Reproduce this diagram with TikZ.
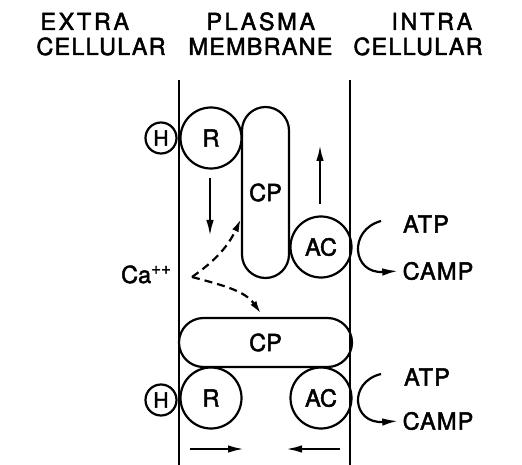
\documentclass[tikz,border=0pt]{standalone}
\usepackage{fontspec}
\usepackage{tikz}
\usetikzlibrary{arrows.meta,positioning,calc}
\newfontfamily\lettering[FakeBold=2]{TeX Gyre Heros}
\newfontfamily\spacedlettering[LetterSpace=11,FakeBold=2]{TeX Gyre Heros}
\newfontfamily\looselettering[LetterSpace=5,FakeBold=2]{TeX Gyre Heros}

\begin{document}
\begin{tikzpicture}[x=1pt,y=-1pt,
          line width=2.2pt,
          every node/.style={font=\lettering\fontsize{23.5}{28}\selectfont},
          head/.style={anchor=base west,font=\spacedlettering\fontsize{23.5}{28}\selectfont},
          subhead/.style={anchor=base west,font=\looselettering\fontsize{23.5}{28}\selectfont},
          mol/.style={font=\looselettering\fontsize{23.5}{28}\selectfont},
          hormone/.style={draw,circle,minimum size=31pt,inner sep=0pt,
                          font=\lettering\fontsize{21}{24}\selectfont},
          unit/.style={draw,circle,minimum size=61pt,inner sep=0pt},
          cpv/.style={draw,rounded corners=23.5pt,minimum width=47pt,
                      minimum height=171pt,inner sep=0pt},
          cph/.style={draw,rounded corners=24.5pt,minimum width=173pt,
                      minimum height=49pt,inner sep=0pt},
          tip/.style={-{Latex[length=16pt,width=7.5pt]}},
          ion/.style={-{Latex[length=13pt,width=7pt]},dash pattern=on 8pt off 5pt},
      ]
        \useasboundingbox (0,0) rectangle (522,465);

        % headings
        \node[head] (ex1) at (36,30) {EXTRA};
        \node[subhead] (ex2) at (32,55) {CELLULAR};
        \node[head] (pm1) at (202,30) {PLASMA};
        \node[subhead] (pm2) at (184,55) {MEMBRANE};
        \node[head] (in1) at (387,30) {INTRA};
        \node[subhead] (in2) at (349,55) {CELLULAR};

        % membrane
        \coordinate (ml0) at (179,80); \coordinate (ml1) at (179,465);
        \coordinate (mr0) at (350,80); \coordinate (mr1) at (350,465);
        \draw (ml0) -- (ml1);
        \draw (mr0) -- (mr1);

        % upper complex
        \node[hormone] (ht) at (161,138) {H};
        \node[unit] (rt) at (211,138) {R};
        \node[cpv] (cpt) at (265.5,192.5) {CP};
        \node[unit] (act) at (321,247) {AC};

        \coordinate (dn0) at (210,178); \coordinate (dn1) at (210,236);
        \coordinate (up0) at (320,204); \coordinate (up1) at (320,145);
        \draw[tip] (dn0) -- (dn1);
        \draw[tip] (up0) -- (up1);

        \node[mol] (atpt) at (426,224) {ATP};
        \node[mol] (campt) at (438,271) {CAMP};
        \coordinate (cyt) at (381,221);
        \draw[tip] (cyt) .. controls (348,230) and (352,274) .. (campt.west);

        % lower complex
        \node[cph] (cpb) at (265.5,342.5) {CP};
        \node[hormone] (hb) at (161,400) {H};
        \node[unit] (rb) at (211,398) {R};
        \node[unit] (acb) at (321,398) {AC};

        \node[mol] (atpb) at (427,377) {ATP};
        \node[mol] (campb) at (438,421) {CAMP};
        \coordinate (cyb) at (381,374);
        \draw[tip] (cyb) .. controls (348,382) and (352,424) .. (campb.west);

        % calcium
        \node[anchor=base west,inner sep=0pt] (ca) at (120,283)
          {Ca\raisebox{9pt}{\fontsize{17}{18}\selectfont ++}};
        \coordinate (cav) at (192,277);
        \draw[ion] (cav) to[out=35,in=245] (cpt.227);
        \draw[ion,shorten >=4pt] (cav) to[out=-15,in=125] (cpb.95);

        % lateral movement
        \coordinate (rl0) at (190,449); \coordinate (rl1) at (244,449);
        \coordinate (lr0) at (340,449); \coordinate (lr1) at (286,449);
        \draw[tip] (rl0) -- (rl1);
        \draw[tip] (lr0) -- (lr1);
      \end{tikzpicture}
\end{document}
